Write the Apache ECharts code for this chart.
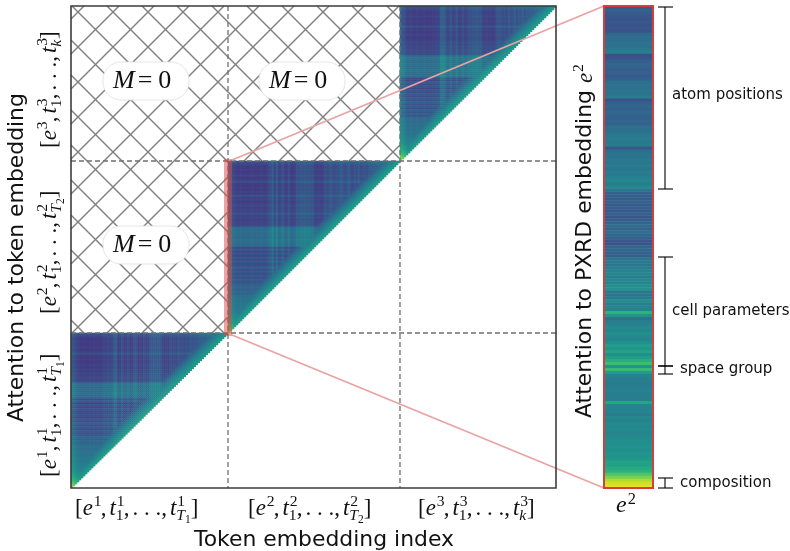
<!DOCTYPE html>
<html><head><meta charset="utf-8">
<style>html,body{margin:0;padding:0;background:#fff}#c{width:790px;height:551px}</style>
<script src="https://cdn.jsdelivr.net/npm/echarts@6/dist/echarts.min.js"></script>
</head><body><div id="c"></div>
<script>
// Attention, in hundredths of the colour scale, one entry per token.
const colsA=[12,10,6,2,1,0,1,0,0,1,0,2,0,1,0,1,4,3,5,4,5,13,14,3,2,10,3,2,8,1,2,9,10,2,3,2,7,3,4,11,12,13,12,13,12,5,3,4,3,9,6,7,6,11,8,8,7,9,8,13,10,12,11,14,15,16,15,17,18,18,19,20,21,22,22,23,24,24];
const rowsA=[9,7,1,0,2,0,1,3,0,1,9,1,0,2,0,1,3,0,4,2,5,3,6,3,5,21,22,20,22,21,23,22,20,7,14,3,10,4,11,5,6,10,4,12,8,15,9,13,7,14,10,12,19,16,20,18,21,24,23,25,26,25,27,28,27,29,30,31,33,34,36,39,42,46,50,55,62,70];
const colsB=[14,12,6,3,1,0,2,0,1,0,0,1,2,0,1,0,2,1,0,1,6,7,15,2,14,2,3,11,2,1,9,1,0,2,10,9,11,10,12,10,11,9,10,2,1,3,1,2,9,7,8,13,8,7,9,10,14,11,7,9,15,8,6,11,8,14,7,9,12,8,13,14,15,15,16,17,17,18,18,19,19,20,20,21,21,22];
const rowsB=[9,6,1,0,2,0,1,4,0,1,9,1,0,2,0,3,1,9,2,4,1,3,5,2,4,3,10,3,5,2,4,3,6,21,22,23,21,22,20,23,22,21,22,6,13,5,11,4,12,7,13,6,9,15,8,14,7,13,9,15,10,14,17,19,16,20,18,23,24,25,25,26,27,27,28,29,31,33,35,37,40,43,47,51,56,63];
const colsC=[14,12,8,2,1,3,1,0,2,1,0,1,2,0,1,0,2,1,3,2,15,16,14,5,4,12,3,4,11,3,2,10,3,4,9,8,11,10,12,10,11,3,2,4,2,3,1,3,10,12,11,7,9,6,13,8,10,15,9,13,11,16,10,14,12,15,13,16,16,17,17,18,18,19,19,20,20,21];
const rowsC=[10,7,2,0,1,3,0,2,1,0,9,1,2,0,3,1,0,2,5,3,6,4,7,5,6,21,23,22,20,23,21,22,24,22,21,23,8,5,12,6,11,5,10,7,12,8,13,9,15,10,14,9,16,11,15,12,20,22,21,23,22,24,23,25,24,27,28,29,31,33,35,38,41,45,49,54,60,66];
const baseLevel=17, contrast=0.82;
const nearDiagonal=[54,52,49,46,43,40,36,32,28,24];
const barValues=[28,31,29,27,26,28,25,27,26,34,36,35,38,37,40,43,24,26,30,33,31,29,31,28,30,36,38,37,39,38,42,26,30,33,31,34,32,30,33,31,37,36,38,41,42,40,43,27,36,39,38,41,40,42,39,43,41,44,46,43,47,40,31,30,29,31,28,30,28,30,27,29,33,35,32,36,33,31,27,26,32,33,31,30,38,41,39,42,44,46,43,47,45,49,51,40,39,41,50,42,46,45,64,52,38,42,44,48,46,50,47,45,50,56,52,58,50,55,62,68,52,67,55,44,42,43,41,42,44,42,43,42,59,46,44,45,43,46,44,47,46,48,46,47,48,50,49,51,50,52,51,53,58,57,61,64,72,80,88,93,95];
const viridis=['#440154','#482475','#414487','#355f8d','#2a788e','#21908d','#22a884','#44bf70','#7ad151','#bddf26','#fde725'];
const bracketLabels=['atom positions','cell parameters','space group','composition'];

function triangle(cols,rows){
  const out=[],n=cols.length;
  for(let r=0;r<n;r++)for(let c=0;c<n-r;c++){
    const d=n-1-r-c, floor=d<nearDiagonal.length?nearDiagonal[d]:0;
    out.push([c,r,Math.max(baseLevel+contrast*(rows[r]+cols[c]),floor)/100]);
  }
  return out;
}
const idx=n=>Array.from({length:n},(_,i)=>i);
const panels=[
 {cols:colsA,rows:rowsA,left:71,top:333,width:157,height:155},
 {cols:colsB,rows:rowsB,left:228,top:161,width:172,height:172},
 {cols:colsC,rows:rowsC,left:400,top:6,width:156,height:155}
];
const grids=panels.map(p=>({left:p.left,top:p.top,width:p.width,height:p.height,show:false}));
grids.push({left:604,top:6,width:49,height:482,show:false});
grids.push({left:0,top:0,width:790,height:551,show:false});
const hide={show:false};
const xAxes=panels.map((p,i)=>({type:'category',gridIndex:i,data:idx(p.cols.length),axisLine:hide,axisTick:hide,axisLabel:hide,splitLine:hide}));
const yAxes=panels.map((p,i)=>({type:'category',gridIndex:i,inverse:true,data:idx(p.rows.length),axisLine:hide,axisTick:hide,axisLabel:hide,splitLine:hide}));
xAxes.push({type:'category',gridIndex:3,data:['e2'],axisLine:hide,axisTick:hide,axisLabel:hide});
yAxes.push({type:'category',gridIndex:3,inverse:true,data:idx(barValues.length),axisLine:hide,axisTick:hide,axisLabel:hide});
xAxes.push({type:'value',gridIndex:4,min:0,max:790,show:false});
yAxes.push({type:'value',gridIndex:4,min:0,max:551,inverse:true,show:false});

const series=panels.map((p,i)=>({type:'heatmap',xAxisIndex:i,yAxisIndex:i,data:triangle(p.cols,p.rows),progressive:0,silent:true,z:2,itemStyle:{borderWidth:0}}));
series.push({type:'heatmap',xAxisIndex:3,yAxisIndex:3,data:barValues.map((v,i)=>[0,i,v/100]),progressive:0,silent:true,z:2});

function line(api,a,b,c,d,stroke,w,dash){
  const p=api.coord([a,b]),q=api.coord([c,d]);
  return {type:'line',shape:{x1:p[0],y1:p[1],x2:q[0],y2:q[1]},style:{stroke:stroke,lineWidth:w,lineDash:dash||null,fill:null}};
}
function box(api,x,y,w,h,style){
  const p=api.coord([x,y]),q=api.coord([x+w,y+h]);
  return {type:'rect',shape:{x:p[0],y:p[1],width:q[0]-p[0],height:q[1]-p[1]},style:style};
}
const hatchRegions=[[71,400,6,161],[71,228,161,333]];
series.push({type:'custom',xAxisIndex:4,yAxisIndex:4,data:[[0,0]],silent:true,z:1,clip:false,renderItem:(par,api)=>{
  const ch=[];
  hatchRegions.forEach(([x0,x1,y0,y1])=>{
    for(let c=66-35*20;c<800;c+=35){ // x-y=c
      const a=Math.max(x0,y0+c),b=Math.min(x1,y1+c);
      if(a<b)ch.push(line(api,a,a-c,b,b-c,'#808080',1.5));
    }
    for(let c=90-35*20;c<1000;c+=35){ // x+y=c
      const a=Math.max(x0,c-y1),b=Math.min(x1,c-y0);
      if(a<b)ch.push(line(api,a,c-a,b,c-b,'#808080',1.5));
    }
  });
  return {type:'group',children:ch};
}});
series.push({type:'custom',xAxisIndex:4,yAxisIndex:4,data:[[0,0]],silent:true,z:5,clip:false,renderItem:(par,api)=>{
  const dash=[5,3],g='#6f6f6f',pink='#e9a3a3',ch=[];
  ch.push(line(api,228,6,228,488,g,1.3,dash),line(api,400,6,400,488,g,1.3,dash));
  ch.push(line(api,71,161,556,161,g,1.3,dash),line(api,71,333,556,333,g,1.3,dash));
  ch.push(box(api,224,159,8,177,{fill:'rgba(222,70,70,0.5)',stroke:null}));
  ch.push(line(api,232,160,604,6,pink,1.8),line(api,232,335,604,488,pink,1.8));
  ch.push(box(api,71,6,485,482,{fill:null,stroke:'#3d3d3d',lineWidth:1.6}));
  ch.push(box(api,604,6,49,482,{fill:null,stroke:'#d83c3c',lineWidth:2}));
  [[7,189],[257,366],[366,374],[478,488]].forEach(([a,b])=>{
    ch.push(line(api,665,a,665,b,'#000',1.1),line(api,658,a,673,a,'#000',1.1),line(api,658,b,673,b,'#000',1.1));
  });
  return {type:'group',children:ch};
}});

const ctx=document.createElement('canvas').getContext('2d');
const SERIF='"Liberation Serif",serif', SANS='"DejaVu Sans",sans-serif';
function font(f,size){return (f==='i'?'italic ':'')+size+'px '+(f==='s'?SANS:SERIF);}
// Position text by its baseline: the library centres a line on the font's middle.
function midShift(f,size){
  ctx.font=font(f,size);ctx.textBaseline='alphabetic';
  const m=ctx.measureText('x');
  return (m.fontBoundingBoxAscent-m.fontBoundingBoxDescent)/2;
}
function put(ch,t,f,size,x,y){
  ch.push({type:'text',z:20,x:x,y:y-midShift(f,size),style:{text:t,font:font(f,size),fill:'#111',align:'left',verticalAlign:'middle'}});
  ctx.font=font(f,size);return ctx.measureText(t).width;
}
// tokens: text, face, and optional superscript / subscript / sub-subscript
function math(x,y,rot,size,tokens){
  const ch=[];let p=0;
  tokens.forEach(k=>{
    const s=k.size||size;
    p+=put(ch,k.t,k.f||'r',s,p,0);
    let w=0;
    if(k.sup)w=Math.max(w,put(ch,k.sup,'r',s*0.68,p+1,-s*0.38));
    if(k.sub){
      const sw=put(ch,k.sub,k.subf||'r',s*0.68,p,s*0.24);
      let e=sw;
      if(k.subsub)e+=put(ch,k.subsub,'r',s*0.5,p+sw,s*0.36);
      w=Math.max(w,e);
    }
    p+=w+(k.gap||0);
  });
  return {type:'group',x:x,y:y,rotation:rot,silent:true,children:ch};
}
function seq(n,last,lastsub){
  const comma={t:',',gap:3};
  return [{t:'['},{t:'e',f:'i',sup:n},comma,{t:'t',f:'i',sup:n,sub:'1'},comma,{t:'. . .',gap:0},comma,
    Object.assign({t:'t',f:'i',sup:n,sub:last,subf:'i'},lastsub?{subsub:lastsub}:{}),{t:']'}];
}
const MSIZE=26, R90=Math.PI/2, TICK=23;
function mzero(cx,cy){
  return [
   {type:'rect',z:15,silent:true,shape:{x:cx-43,y:cy-19,width:86,height:38,r:18},style:{fill:'#fff',stroke:'#dedede',lineWidth:0.8}},
   math(cx-33,cy+9,0,MSIZE,[{t:'M',f:'i',gap:3},{t:'=',gap:6},{t:'0'}])
  ];
}
function sans(t,x,y,size,align){
  return {type:'text',z:20,x:x,y:y-midShift('s',size),silent:true,style:{text:t,font:size+'px '+SANS,fill:'#111',align:align||'left',verticalAlign:'middle'}};
}
function sansUp(t,x,y,size){ // rotated text: baseline offset runs along x
  return {type:'text',z:20,x:x-midShift('s',size),y:y,rotation:R90,silent:true,style:{text:t,font:size+'px '+SANS,fill:'#111',align:'left',verticalAlign:'middle'}};
}
const graphic=[].concat(
  mzero(146,81),mzero(302,81),mzero(146,245),
  [math(75,516,0,TICK,seq('1','T','1')),math(248,516,0,TICK,seq('2','T','2')),math(418,516,0,TICK,seq('3','k')),
   math(57,477,R90,TICK,seq('1','T','1')),math(57,314,R90,TICK,seq('2','T','2')),math(57,148,R90,TICK,seq('3','k')),
   sans('Token embedding index',324,548,21.9,'center'),
   sansUp('Attention to token embedding',25,422,21.9),
   math(593,418,R90,21.9,[{t:'Attention to PXRD embedding ',f:'s'},{t:'e',f:'i',sup:'2',size:23}]),
   math(616,514,0,24,[{t:'e',f:'i',sup:'2'}]),
   sans(bracketLabels[0],672,100,15),sans(bracketLabels[1],672,316,15),
   sans(bracketLabels[2],680,374,15),sans(bracketLabels[3],680,488,15)]
);
const chart=echarts.init(document.getElementById('c'),null,{renderer:'canvas'});
chart.setOption({
  animation:false,backgroundColor:'#fff',
  grid:grids,xAxis:xAxes,yAxis:yAxes,series:series,
  visualMap:{show:false,type:'continuous',min:0,max:1,seriesIndex:[0,1,2,3],dimension:2,inRange:{color:viridis}},
  graphic:{elements:graphic}
});
</script></body></html>
